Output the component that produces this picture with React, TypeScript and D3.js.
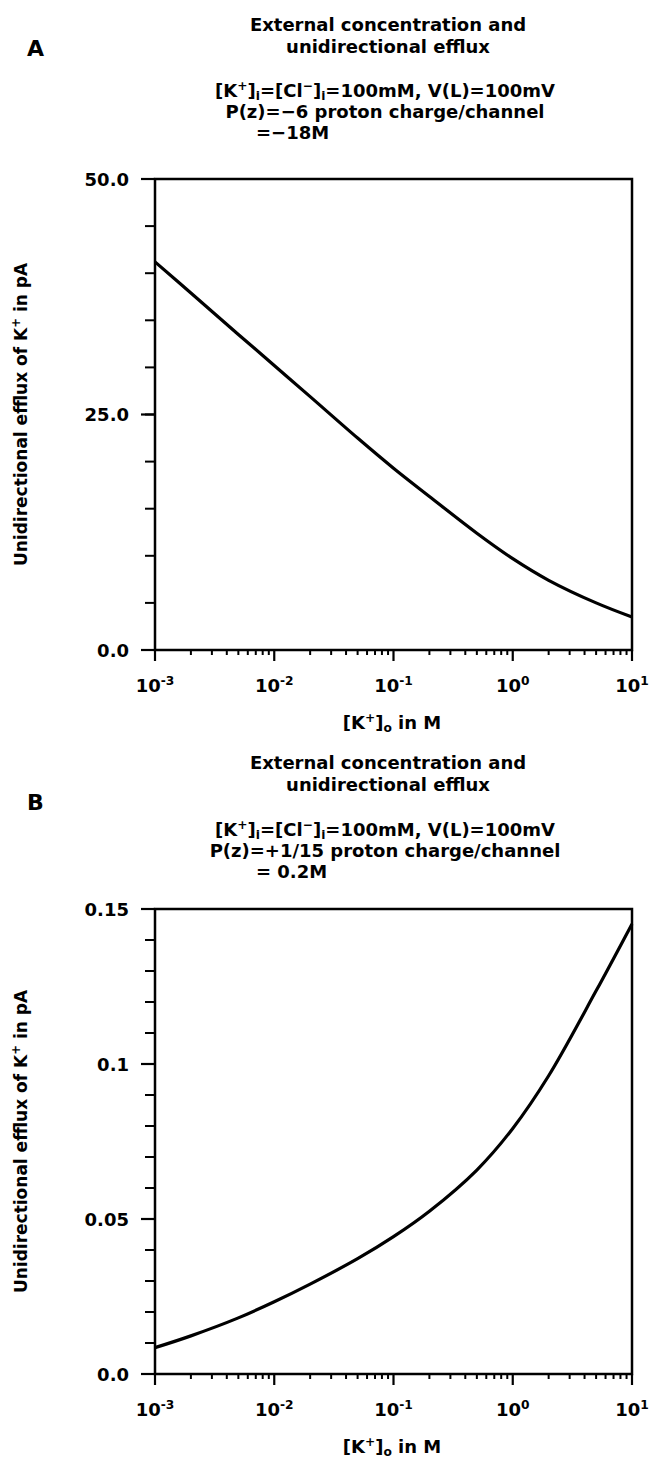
import React from "react";
import * as d3 from "d3";

// ---- data ----
const concentrations = [0.001, 0.002, 0.005, 0.01, 0.02, 0.05, 0.1, 0.2, 0.5, 1, 2, 5, 10];
const effluxA = [41.2, 37.9, 33.5, 30.2, 26.9, 22.5, 19.3, 16.3, 12.4, 9.7, 7.4, 5.0, 3.5];
const effluxB = [0.0085, 0.0123, 0.0181, 0.0233, 0.0290, 0.0372, 0.0443, 0.0525, 0.0658, 0.0792, 0.0962, 0.1236, 0.1452];
const xDecades = [0.001, 0.01, 0.1, 1, 10];
const xDecadeExps = ["-3", "-2", "-1", "0", "1"];
const yTicksA = [0, 25, 50];
const yTickLabelsA = ["0.0", "25.0", "50.0"];
const yTicksB = [0, 0.05, 0.1, 0.15];
const yTickLabelsB = ["0.0", "0.05", "0.1", "0.15"];

type Seg = { t: string; s?: "sup" | "sub" };

const FONT = "'DejaVu Sans', Verdana, sans-serif";

function RichText({ x, y, segs, anchor = "start", size = 18 }: { x: number; y: number; segs: Seg[]; anchor?: string; size?: number }) {
  let cur = 0;
  const shift = (s?: string) => (s === "sup" ? -7 : s === "sub" ? 3 : 0);
  return (
    <text x={x} y={y} textAnchor={anchor} fontFamily={FONT} fontWeight="bold" fontSize={size} fill="#000">
      {segs.map((g, i) => {
        const target = shift(g.s);
        const dy = target - cur;
        cur = target;
        return (
          <tspan key={i} dy={dy} fontSize={g.s ? size * 0.68 : size}>
            {g.t}
          </tspan>
        );
      })}
    </text>
  );
}

const LEFT = 155;
const RIGHT = 632;

function Panel({ top, bottom, yMax, values, yTicks, yLabels, minorStep, letter, titleY, lines }: any) {
  const x = d3.scaleLog().domain([0.001, 10]).range([LEFT, RIGHT]);
  const y = d3.scaleLinear().domain([0, yMax]).range([bottom, top]);
  const line = d3
    .line<number>()
    .x((_, i) => x(concentrations[i]))
    .y((d) => y(d))
    .curve(d3.curveCatmullRom.alpha(0.5));
  const minorY = d3.range(0, yMax + minorStep / 2, minorStep);
  const minorX: number[] = [];
  for (const dec of [0.001, 0.01, 0.1, 1]) for (let k = 2; k <= 9; k++) minorX.push(dec * k);
  const cy = (top + bottom) / 2;
  return (
    <g>
      {/* panel letter */}
      <text x={27} y={titleY.letter} fontFamily={FONT} fontWeight="bold" fontSize={22}>{letter}</text>
      {/* titles */}
      <text x={388} y={titleY.t1} textAnchor="middle" fontFamily={FONT} fontWeight="bold" fontSize={18}>External concentration and</text>
      <text x={388} y={titleY.t2} textAnchor="middle" fontFamily={FONT} fontWeight="bold" fontSize={18}>unidirectional efflux</text>
      <RichText x={385} y={titleY.l1} anchor="middle" segs={[
        { t: "[K" }, { t: "+", s: "sup" }, { t: "]" }, { t: "i", s: "sub" }, { t: "=[Cl" }, { t: "−", s: "sup" }, { t: "]" }, { t: "i", s: "sub" }, { t: "=100mM, V(L)=100mV" },
      ]} />
      <RichText x={385} y={titleY.l2} anchor="middle" segs={[{ t: lines[0] }]} />
      <RichText x={256} y={titleY.l3} segs={[{ t: lines[1] }]} />

      {/* frame */}
      <rect x={LEFT} y={top} width={RIGHT - LEFT} height={bottom - top} fill="none" stroke="#000" strokeWidth={2.5} />
      {/* y ticks */}
      {minorY.map((v, i) => (
        <line key={"my" + i} x1={LEFT - 10} x2={LEFT} y1={y(v)} y2={y(v)} stroke="#000" strokeWidth={2} />
      ))}
      {yTicks.map((v: number, i: number) => (
        <g key={"y" + i}>
          <line x1={LEFT - 14} x2={LEFT} y1={y(v)} y2={y(v)} stroke="#000" strokeWidth={2.2} />
          <text x={LEFT - 26} y={y(v) + 6.5} textAnchor="end" fontFamily={FONT} fontWeight="bold" fontSize={18}>{yLabels[i]}</text>
        </g>
      ))}
      {/* x ticks */}
      {minorX.map((v, i) => (
        <line key={"mx" + i} x1={x(v)} x2={x(v)} y1={bottom} y2={bottom + 5} stroke="#000" strokeWidth={2} />
      ))}
      {xDecades.map((v, i) => (
        <g key={"x" + i}>
          <line x1={x(v)} x2={x(v)} y1={bottom} y2={bottom + 11} stroke="#000" strokeWidth={2.2} />
          <RichText x={x(v)} y={bottom + 42} anchor="middle" segs={[{ t: "10" }, { t: xDecadeExps[i], s: "sup" }]} />
        </g>
      ))}
      {/* x label */}
      <RichText x={392} y={bottom + 79} anchor="middle" segs={[{ t: "[K" }, { t: "+", s: "sup" }, { t: "]" }, { t: "o", s: "sub" }, { t: " in M" }]} />
      {/* y label */}
      <g transform={`translate(27, ${cy}) rotate(-90)`}>
        <RichText x={0} y={0} anchor="middle" size={17} segs={[{ t: "Unidirectional efflux of K" }, { t: "+", s: "sup" }, { t: " in pA" }]} />
      </g>
      {/* curve */}
      <path d={line(values) || ""} fill="none" stroke="#000" strokeWidth={3.2} strokeLinejoin="round" />
    </g>
  );
}

export default function App() {
  return (
    <svg width={650} height={1460} style={{ position: "absolute", left: 0, top: 0, background: "#fff" }}>
      <rect x={0} y={0} width={650} height={1460} fill="#fff" />
      <Panel
        top={179}
        bottom={650}
        yMax={50}
        values={effluxA}
        yTicks={yTicksA}
        yLabels={yTickLabelsA}
        minorStep={5}
        letter="A"
        titleY={{ t1: 31, t2: 53, letter: 56, l1: 97, l2: 118, l3: 139 }}
        lines={["P(z)=−6 proton charge/channel", "=−18M"]}
      />
      <Panel
        top={909}
        bottom={1374}
        yMax={0.15}
        values={effluxB}
        yTicks={yTicksB}
        yLabels={yTickLabelsB}
        minorStep={0.01}
        letter="B"
        titleY={{ t1: 769, t2: 791, letter: 810, l1: 836, l2: 857, l3: 878 }}
        lines={["P(z)=+1/15 proton charge/channel", "= 0.2M"]}
      />
    </svg>
  );
}
